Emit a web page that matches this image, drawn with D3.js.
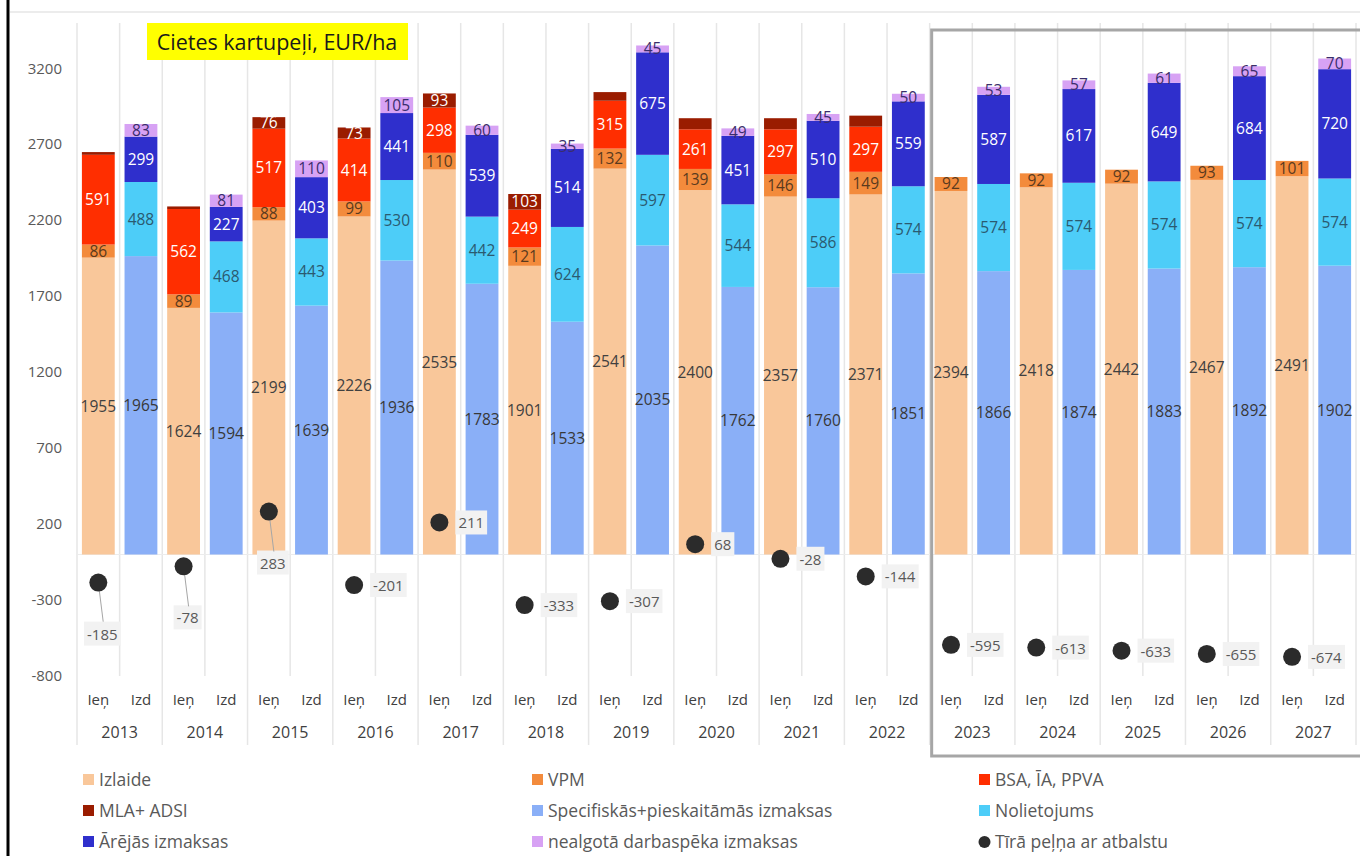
<!DOCTYPE html>
<html>
<head>
<meta charset="utf-8">
<script src="https://cdn.jsdelivr.net/npm/d3@7"></script>
<style>
  body { margin: 0; background: #fff; }
  svg text { font-family: "Open Sans", "Noto Sans", sans-serif; }
</style>
</head>
<body>
<div id="chart"></div>
<script>
const years = ["2013", "2014", "2015", "2016", "2017", "2018", "2019", "2020", "2021", "2022", "2023", "2024", "2025", "2026", "2027"];
const subLabels = ["Ieņ", "Izd"];

// Ieņēmumi
const izlaide = [1955, 1624, 2199, 2226, 2535, 1901, 2541, 2400, 2357, 2371, 2394, 2418, 2442, 2467, 2491];
const vpm = [86, 89, 88, 99, 110, 121, 132, 139, 146, 149, 92, 92, 92, 93, 101];
const bsa = [591, 562, 517, 414, 298, 249, 315, 261, 297, 297, 0, 0, 0, 0, 0];
const mla = [18, 17, 76, 73, 93, 103, 57, 73, 73, 73, 0, 0, 0, 0, 0];
const mlaShown = [false, false, true, true, true, true, false, false, false, false, false, false, false, false, false];

// Izdevumi
const specifiskas = [1965, 1594, 1639, 1936, 1783, 1533, 2035, 1762, 1760, 1851, 1866, 1874, 1883, 1892, 1902];
const nolietojums = [488, 468, 443, 530, 442, 624, 597, 544, 586, 574, 574, 574, 574, 574, 574];
const arejas = [299, 227, 403, 441, 539, 514, 675, 451, 510, 559, 587, 617, 649, 684, 720];
const nealgota = [83, 81, 110, 105, 60, 35, 45, 49, 45, 50, 53, 57, 61, 65, 70];

const pelna = [-185, -78, 283, -201, 211, -333, -307, 68, -28, -144, -595, -613, -633, -655, -674];

const yTicks = [-800, -300, 200, 700, 1200, 1700, 2200, 2700, 3200];

const incomeSeries = [
  { name: "Izlaide", values: izlaide, color: "#F9C79A", text: "#404040" },
  { name: "VPM", values: vpm, color: "#F38B3C", text: "#5a3a1e" },
  { name: "BSA, ĪA, PPVA", values: bsa, color: "#FF2E00", text: "#ffffff" },
  { name: "MLA+ ADSI", values: mla, color: "#9A1C00", text: "#ffffff", shown: mlaShown }
];
const costSeries = [
  { name: "Specifiskās+pieskaitāmās izmaksas", values: specifiskas, color: "#8AAFF7", text: "#383838" },
  { name: "Nolietojums", values: nolietojums, color: "#4DCDF8", text: "#2b5a70" },
  { name: "Ārējās izmaksas", values: arejas, color: "#2F2FCC", text: "#ffffff" },
  { name: "nealgotā darbaspēka izmaksas", values: nealgota, color: "#D7A2F4", text: "#3a2d6c" }
];

const width = 1360, height = 856;
const margin = { left: 77, right: 1356, top: 23, bottom: 676 };

const svg = d3.select("#chart")
  .append("svg")
  .attr("width", width)
  .attr("height", height);

// chart frame bits
svg.append("line").attr("x1", 10).attr("x2", width).attr("y1", 12).attr("y2", 12)
  .attr("stroke", "#d9d9d9").attr("stroke-width", 1);
svg.append("line").attr("x1", 8).attr("x2", 8).attr("y1", 0).attr("y2", height)
  .attr("stroke", "#000").attr("stroke-width", 3);

const categories = [];
years.forEach(y => subLabels.forEach(s => categories.push(y + "|" + s)));

const x = d3.scaleBand()
  .domain(categories)
  .range([margin.left, margin.right])
  .paddingInner(0.23)
  .paddingOuter(0.115);

const y = d3.scaleLinear()
  .domain([-800, 3500])
  .range([margin.bottom, margin.top]);

const step = x.step();

// vertical gridlines between categories
const boundaries = d3.range(categories.length + 1);
svg.append("g")
  .selectAll("line")
  .data(boundaries)
  .join("line")
  .attr("x1", d => margin.left + d * step)
  .attr("x2", d => margin.left + d * step)
  .attr("y1", margin.top)
  .attr("y2", d => d % 2 === 0 ? 745 : margin.bottom)
  .attr("stroke", "#e6e6e6")
  .attr("stroke-width", 1.5);

svg.append("line")
  .attr("x1", margin.left).attr("x2", margin.right)
  .attr("y1", y(0)).attr("y2", y(0))
  .attr("stroke", "#ececec");

// y axis labels
svg.append("g")
  .selectAll("text")
  .data(yTicks)
  .join("text")
  .attr("x", 62)
  .attr("y", d => y(d) + 5)
  .attr("text-anchor", "end")
  .attr("font-size", "15px")
  .attr("fill", "#595959")
  .text(d => d);

// stacked bars
function drawStack(series, sub) {
  years.forEach((yr, i) => {
    let base = 0;
    const cat = yr + "|" + sub;
    series.forEach(s => {
      const v = s.values[i];
      s._labels = s._labels || [];
      if (!v) return;
      const y0 = base, y1 = base + v;
      base = y1;
      svg.append("rect")
        .attr("x", x(cat))
        .attr("width", x.bandwidth())
        .attr("y", y(y1))
        .attr("height", y(y0) - y(y1))
        .attr("fill", s.color);
      if (!s.shown || s.shown[i]) {
        s._labels.push({ cx: x(cat) + x.bandwidth() / 2, cy: y((y0 + y1) / 2), v: v, color: s.text });
      }
    });
  });
}
drawStack(incomeSeries, "Ieņ");
drawStack(costSeries, "Izd");

const labelG = svg.append("g");
incomeSeries.concat(costSeries).forEach(s => {
  labelG.selectAll(null)
    .data(s._labels)
    .join("text")
    .attr("x", d => d.cx)
    .attr("y", d => d.cy + 5.5)
    .attr("text-anchor", "middle")
    .attr("font-size", "15.5px")
    .attr("fill", d => d.color)
    .text(d => d.v);
});

// profit points
const below = [0, 1, 2];
const profitG = svg.append("g");
pelna.forEach((v, i) => {
  const cx = x(years[i] + "|Ieņ") + x.bandwidth() / 2;
  const cy = y(v);
  let lx, ly, anchor;
  if (below.includes(i)) {
    lx = cx + 4; ly = cy + 52; anchor = "middle";
    profitG.append("line")
      .attr("x1", cx).attr("y1", cy)
      .attr("x2", lx + 1).attr("y2", ly - 12)
      .attr("stroke", "#a6a6a6").attr("stroke-width", 1);
  } else {
    lx = cx + 19; ly = cy + 1; anchor = "start";
  }
  const t = profitG.append("text")
    .attr("x", lx)
    .attr("y", ly + 5)
    .attr("text-anchor", anchor)
    .attr("font-size", "15px")
    .attr("fill", "#595959")
    .text(v);
  const bb = t.node().getBBox();
  profitG.insert("rect", "text")
    .attr("x", bb.x - 3).attr("y", bb.y - 2)
    .attr("width", bb.width + 6).attr("height", bb.height + 4)
    .attr("fill", "#f2f2f2");
  profitG.append("circle")
    .attr("cx", cx).attr("cy", cy).attr("r", 9)
    .attr("fill", "#2b2b2b");
});

// category labels
svg.append("g")
  .selectAll("text")
  .data(categories)
  .join("text")
  .attr("x", d => x(d) + x.bandwidth() / 2)
  .attr("y", 705)
  .attr("text-anchor", "middle")
  .attr("font-size", "15px")
  .attr("fill", "#404040")
  .text(d => d.split("|")[1]);

svg.append("g")
  .selectAll("text")
  .data(years)
  .join("text")
  .attr("x", (d, i) => margin.left + (2 * i + 1) * step)
  .attr("y", 738)
  .attr("text-anchor", "middle")
  .attr("font-size", "16px")
  .attr("fill", "#404040")
  .text(d => d);

// forecast box
svg.append("rect")
  .attr("x", margin.left + 20 * step + 2)
  .attr("y", 30)
  .attr("width", 440)
  .attr("height", 726)
  .attr("fill", "none")
  .attr("stroke", "#a6a6a6")
  .attr("stroke-width", 3);

// title
svg.append("rect")
  .attr("x", 147).attr("y", 23).attr("width", 261).attr("height", 37)
  .attr("fill", "#FFFF00");
svg.append("text")
  .attr("x", 277).attr("y", 50)
  .attr("text-anchor", "middle")
  .attr("font-size", "21.5px")
  .attr("fill", "#1a1a1a")
  .text("Cietes kartupeļi, EUR/ha");

// legend
const legendItems = [
  { name: "Izlaide", color: "#F9C79A" },
  { name: "VPM", color: "#F38B3C" },
  { name: "BSA, ĪA, PPVA", color: "#FF2E00" },
  { name: "MLA+ ADSI", color: "#9A1C00" },
  { name: "Specifiskās+pieskaitāmās izmaksas", color: "#8AAFF7" },
  { name: "Nolietojums", color: "#4DCDF8" },
  { name: "Ārējās izmaksas", color: "#2F2FCC" },
  { name: "nealgotā darbaspēka izmaksas", color: "#D7A2F4" },
  { name: "Tīrā peļņa ar atbalstu", color: "#2b2b2b", dot: true }
];
const colX = [83, 532, 979];
const legend = svg.append("g")
  .selectAll("g")
  .data(legendItems)
  .join("g")
  .attr("transform", (d, i) => `translate(${colX[i % 3]}, ${780 + Math.floor(i / 3) * 31})`);
legend.filter(d => !d.dot).append("rect")
  .attr("x", 0).attr("y", -6).attr("width", 11).attr("height", 11)
  .attr("fill", d => d.color);
legend.filter(d => d.dot).append("circle")
  .attr("cx", 5.5).attr("cy", 0).attr("r", 6)
  .attr("fill", d => d.color);
legend.append("text")
  .attr("x", 16).attr("y", 6)
  .attr("font-size", "17.5px")
  .attr("fill", "#595959")
  .text(d => d.name);
</script>
</body>
</html>
